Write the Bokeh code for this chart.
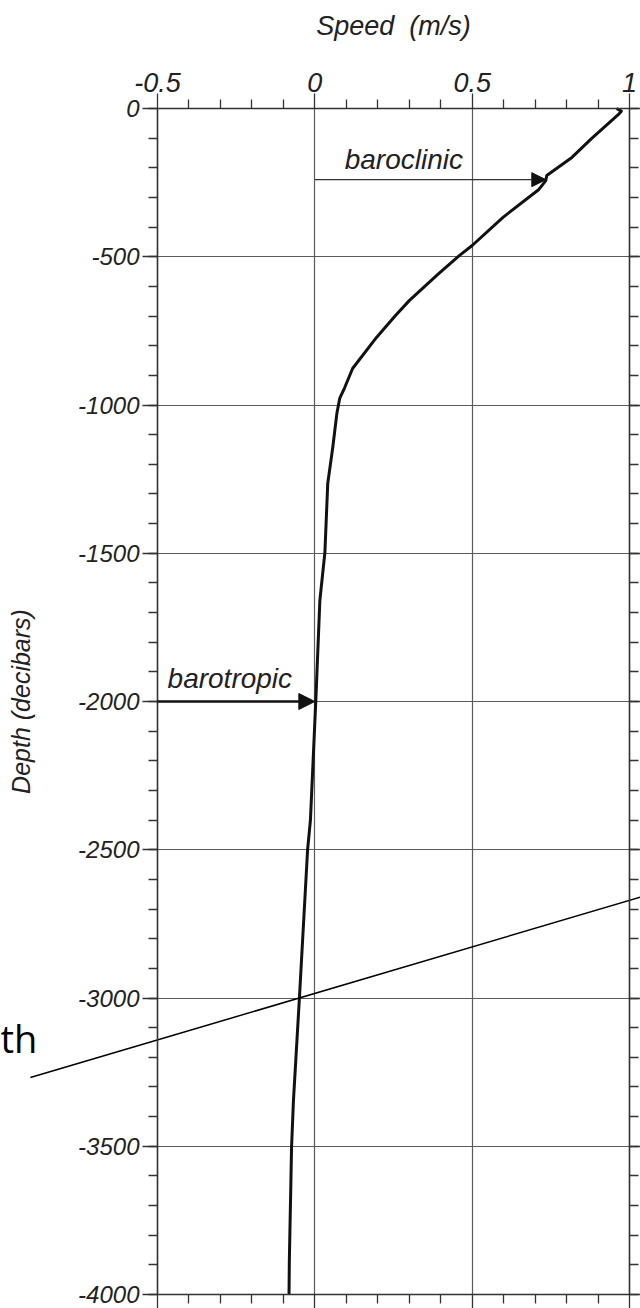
from bokeh.plotting import figure
from bokeh.models import (LinearAxis, FixedTicker, Arrow, NormalHead, Label, Grid,
                          CustomJSTickFormatter, Range1d)
from bokeh.embed import file_html
from bokeh.resources import INLINE

# ---- data ----
depth = [0, -9, -20, -101, -165, -226, -243, -273, -367, -462, -496, -560, -648,
         -700, -772, -877, -941, -978, -1029, -1143, -1265, -1497, -1659, -2000,
         -2400, -2500, -3000, -3346, -3504, -3615, -3885, -4000]
speed = [0.959, 0.974, 0.965, 0.880, 0.817, 0.737, 0.734, 0.712, 0.598, 0.500,
         0.459, 0.390, 0.300, 0.255, 0.196, 0.120, 0.095, 0.079, 0.070, 0.057,
         0.041, 0.032, 0.016, 0.003, -0.014, -0.023, -0.049, -0.068, -0.074,
         -0.076, -0.081, -0.082]

x_ticks = [-0.5, 0, 0.5, 1]
x_tick_labels = ["-0.5", "0", "0.5", "1"]
x_minor = [-0.4, -0.3, -0.2, -0.1, 0.1, 0.2, 0.3, 0.4, 0.6, 0.7, 0.8, 0.9]
y_ticks = [-4000, -3500, -3000, -2500, -2000, -1500, -1000, -500, 0]
y_tick_labels = ["-4000", "-3500", "-3000", "-2500", "-2000", "-1500", "-1000", "-500", "0"]
y_minor = [d for d in range(-4000, 1, 100)]

baroclinic_speed = [0.0, 0.734]
baroclinic_depth = [-240, -240]
barotropic_speed = [-0.5, 0.0]
barotropic_depth = [-2000, -2000]
cross_speed = [-0.904, 1.035]
cross_depth = [-3268, -2660]

# ---- layout (canvas pixels) ----
W, H = 640, 1308
FL, FR, FT, FB = 157, 629, 108, 1294   # where the axes box sits on the canvas
X0, X1 = x_ticks[0], x_ticks[-1]
Y0, Y1 = y_ticks[0], y_ticks[-1]
kx = (FR - FL) / (X1 - X0)
ky = (FB - FT) / (Y1 - Y0)
x_range = Range1d(X0 - FL / kx, X1 + (W - FR) / kx)
y_range = Range1d(Y0 - (H - FB) / ky, Y1 + FT / ky)

FONT = "Liberation Sans"
TXT = "#222222"
AX = "#333333"
GRID = "#5a5a5a"

p = figure(width=W, height=H, x_range=x_range, y_range=y_range,
           x_axis_location=None, y_axis_location=None,
           output_backend="svg", toolbar_location=None,
           min_border=0, min_border_left=0, min_border_right=0,
           min_border_top=0, min_border_bottom=0, outline_line_color=None,
           background_fill_color="white", border_fill_color="white")
p.grid.visible = False

xt = FixedTicker(ticks=x_ticks, minor_ticks=x_minor)
yt = FixedTicker(ticks=y_ticks, minor_ticks=y_minor)


def style(ax, ticker, labels=None, ticks=None, size="25px"):
    ax.ticker = ticker
    ax.axis_line_color = AX
    ax.axis_line_width = 1.5
    ax.major_tick_line_color = AX
    ax.minor_tick_line_color = AX
    ax.major_tick_line_width = 1.3
    ax.minor_tick_line_width = 1.3
    ax.major_tick_in = 0
    ax.minor_tick_in = 0
    ax.major_tick_out = 15
    ax.minor_tick_out = 9
    ax.major_label_text_font = FONT
    ax.major_label_text_font_style = "italic"
    ax.major_label_text_font_size = size
    ax.major_label_text_color = TXT
    ax.axis_label_text_font = FONT
    ax.axis_label_text_font_style = "italic"
    ax.axis_label_text_font_size = "25px"
    ax.axis_label_text_color = TXT
    if labels is not None:
        ax.major_label_overrides = {t: l for t, l in zip(ticks, labels)}
    else:
        ax.formatter = CustomJSTickFormatter(code="return ''")
        ax.major_label_standoff = 0


top = LinearAxis(fixed_location=Y1, bounds=(X0, X1))
style(top, xt, x_tick_labels, x_ticks, "27px")
top.axis_label = "Speed\u00a0 (m/s)"
top.axis_label_text_font_size = "27px"
top.major_label_standoff = 2
top.axis_label_standoff = 29
p.add_layout(top, "above")

left = LinearAxis(fixed_location=X0, bounds=(Y0, Y1))
style(left, yt, y_tick_labels, y_ticks, "24px")
left.axis_label = "Depth (decibars)"
left.major_label_standoff = 3
left.axis_label_standoff = 40
p.add_layout(left, "left")

bottom = LinearAxis(fixed_location=Y0, bounds=(X0, X1))
style(bottom, xt)
p.add_layout(bottom, "below")
right = LinearAxis(fixed_location=X1, bounds=(Y0, Y1))
style(right, yt)
p.add_layout(right, "right")

try:
    gx = Grid(dimension=0, ticker=FixedTicker(ticks=x_ticks), bounds=(X0, X1),
              cross_bounds=(Y0, Y1), grid_line_color=GRID, grid_line_width=1.2,
              level="underlay")
    gy = Grid(dimension=1, ticker=FixedTicker(ticks=y_ticks), bounds=(Y0, Y1),
              cross_bounds=(X0, X1), grid_line_color=GRID, grid_line_width=1.2,
              level="underlay")
    p.add_layout(gx)
    p.add_layout(gy)
except Exception:
    p.segment(x0=x_ticks, y0=[Y0] * len(x_ticks), x1=x_ticks, y1=[Y1] * len(x_ticks),
              line_color=GRID, line_width=1.2, level="underlay")
    p.segment(x0=[X0] * len(y_ticks), y0=y_ticks, x1=[X1] * len(y_ticks), y1=y_ticks,
              line_color=GRID, line_width=1.2, level="underlay")

p.line(speed, depth, line_color="#111111", line_width=3, line_join="round")
p.line(cross_speed, cross_depth, line_color="#000000", line_width=1.5)

p.add_layout(Arrow(x_start=baroclinic_speed[0], y_start=baroclinic_depth[0],
                   x_end=baroclinic_speed[1], y_end=baroclinic_depth[1],
                   line_color="#333333", line_width=1.3,
                   end=NormalHead(size=14, fill_color="#111111", line_color="#111111",
                                  line_width=1)))
p.add_layout(Arrow(x_start=barotropic_speed[0], y_start=barotropic_depth[0],
                   x_end=barotropic_speed[1], y_end=barotropic_depth[1],
                   line_color="#111111", line_width=2.5,
                   end=NormalHead(size=16, fill_color="#111111", line_color="#111111",
                                  line_width=1)))

p.add_layout(Label(x=0.095, y=-223, text="baroclinic", text_font=FONT,
                   text_baseline="bottom",
                   text_font_style="italic", text_font_size="28px", text_color=TXT))
p.add_layout(Label(x=-0.468, y=-1976, text="barotropic", text_font=FONT,
                   text_baseline="bottom",
                   text_font_style="italic", text_font_size="28px", text_color=TXT))
p.add_layout(Label(x=x_range.start, y=-3221, text="th", text_baseline="bottom",
                   text_font="Open Sans", text_font_size="38px", text_color="#000000"))

open("out.html", "w").write(file_html(p, INLINE))
